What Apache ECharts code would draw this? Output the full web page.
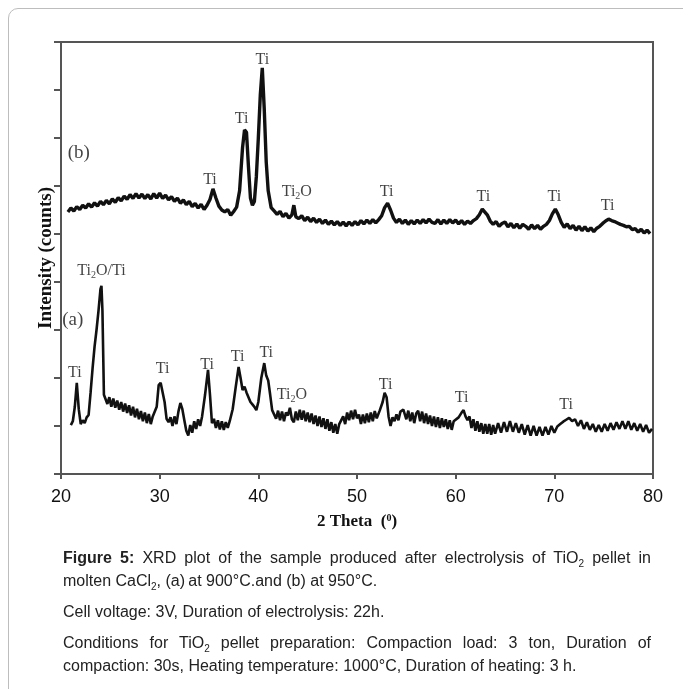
<!DOCTYPE html>
<html>
<head>
<meta charset="utf-8">
<script src="https://cdn.jsdelivr.net/npm/echarts@6/dist/echarts.min.js"></script>
<style>
html,body{margin:0;padding:0;background:#fff;width:683px;height:689px;overflow:hidden;}
#frame{position:absolute;left:8px;top:8px;width:700px;height:720px;border:1px solid #bdbdbd;border-radius:10px;box-sizing:border-box;}
#chart{position:absolute;left:0;top:0;width:683px;height:689px;}
#caption{position:absolute;left:63px;top:546px;width:588px;font-family:'Liberation Sans',Arial,sans-serif;font-size:16px;color:#222;}
#caption .l{height:23px;line-height:23px;white-space:nowrap;}
#caption .j{text-align:justify;text-align-last:justify;}
#caption .gap{height:8px;}
#caption sub{font-size:10px;vertical-align:-4px;line-height:0;}
</style>
</head>
<body>
<div id="frame"></div>
<div id="chart"></div>
<div id="caption">
<div class="l j"><b>Figure 5:</b> XRD plot of the sample produced after electrolysis of TiO<sub>2</sub> pellet in</div>
<div class="l">molten CaCl<sub>2</sub>, (a)&#8201;at 900°C.and (b) at 950°C.</div>
<div class="gap"></div>
<div class="l">Cell voltage: 3V, Duration of electrolysis: 22h.</div>
<div class="gap"></div>
<div class="l j">Conditions for TiO<sub>2</sub> pellet preparation: Compaction load: 3 ton, Duration of</div>
<div class="l">compaction: 30s, Heating temperature: 1000°C, Duration of heating: 3 h.</div>
</div>
<script>
// x axis tick values
var xTicks = [20, 30, 40, 50, 60, 70, 80];

// Pattern (b): 950 °C  [2θ, intensity]
var seriesB = [
[20.7,546],[21.0,554],[21.3,548],[21.6,557],[21.9,551],[22.2,560],[22.5,554],[22.8,563],[23.1,556],[23.4,565],
[23.7,558],[24.0,568],[24.3,561],[24.6,570],[24.9,563],[25.2,573],[25.5,566],[25.8,576],[26.1,569],[26.4,579],
[26.7,572],[27.0,582],[27.3,574],[27.6,584],[27.9,575],[28.2,583],[28.5,574],[28.8,582],[29.1,573],[29.4,584],
[29.7,575],[30.0,585],[30.3,574],[30.6,581],[30.9,571],[31.2,578],[31.5,568],[31.8,575],[32.1,564],[32.4,571],
[32.7,561],[33.0,568],[33.3,557],[33.6,564],[33.9,554],[34.2,562],[34.5,551],[34.8,560],[35.1,572],[35.4,594],
[35.7,575],[36.0,558],[36.3,550],[36.6,546],[36.9,551],[37.2,539],[37.5,547],[37.8,556],[38.1,590],[38.4,680],
[38.6,717],[38.8,712],[39.0,640],[39.2,575],[39.4,560],[39.6,568],[39.8,620],[40.0,700],[40.2,790],[40.4,846],
[40.6,760],[40.8,650],[41.0,590],[41.3,555],[41.6,548],[41.9,541],[42.2,547],[42.5,536],[42.8,543],[43.1,533],
[43.4,540],[43.6,560],[43.8,536],[44.1,532],[44.4,538],[44.7,528],[45.0,535],[45.3,526],[45.6,533],[45.9,524],
[46.2,531],[46.5,522],[46.8,529],[47.1,520],[47.4,527],[47.7,519],[48.0,526],[48.3,518],[48.6,525],[48.9,517],
[49.2,525],[49.5,518],[49.8,526],[50.1,519],[50.4,528],[50.7,521],[51.0,529],[51.3,522],[51.6,530],[51.9,523],
[52.2,530],[52.5,538],[52.8,555],[53.1,564],[53.4,550],[53.7,533],[54.0,524],[54.3,531],[54.6,522],[54.9,529],
[55.2,520],[55.5,528],[55.8,521],[56.1,529],[56.4,522],[56.7,530],[57.0,523],[57.3,531],[57.6,524],[57.9,522],
[58.2,530],[58.5,521],[58.8,529],[59.1,522],[59.4,530],[59.7,523],[60.0,529],[60.3,521],[60.6,528],[60.9,520],
[61.2,527],[61.5,522],[61.8,528],[62.1,532],[62.4,540],[62.7,552],[62.9,554],[63.2,540],[63.5,527],[63.8,520],
[64.1,526],[64.4,516],[64.7,522],[65.0,525],[65.3,515],[65.6,522],[65.9,513],[66.2,521],[66.5,512],[66.8,520],
[67.1,516],[67.4,510],[67.7,519],[68.0,511],[68.3,518],[68.6,510],[68.9,516],[69.2,520],[69.5,528],[69.8,542],
[70.1,552],[70.4,540],[70.7,524],[71.0,514],[71.3,521],[71.6,511],[71.9,518],[72.2,508],[72.5,516],[72.8,507],
[73.1,515],[73.4,506],[73.7,513],[74.0,505],[74.3,512],[74.6,516],[74.9,522],[75.2,527],[75.5,531],[75.8,528],
[76.1,526],[76.4,523],[76.7,520],[77.0,518],[77.3,515],[77.6,516],[77.9,509],[78.2,511],[78.5,504],[78.8,510],
[79.1,502],[79.4,508],[79.7,501]
];

// Pattern (a): 900 °C  [2θ, intensity]
var seriesA = [
[21.0,102],[21.2,110],[21.4,140],[21.6,190],[21.8,135],[22.0,104],[22.2,112],[22.4,106],[22.6,118],[22.8,123],
[23.0,170],[23.2,220],[23.4,265],[23.6,300],[23.8,340],[24.0,385],[24.1,392],[24.2,340],[24.35,165],[24.5,162],
[24.7,146],[24.9,160],[25.1,140],[25.3,157],[25.5,138],[25.7,153],[25.9,134],[26.1,150],[26.3,130],[26.5,147],
[26.7,127],[26.9,143],[27.1,122],[27.3,140],[27.5,118],[27.7,136],[27.9,114],[28.1,131],[28.3,110],[28.5,128],
[28.7,106],[28.9,125],[29.1,104],[29.3,120],[29.5,120],[29.7,140],[29.9,185],[30.1,190],[30.3,188],[30.5,150],
[30.7,115],[30.9,108],[31.1,118],[31.3,100],[31.5,120],[31.7,104],[31.9,130],[32.1,148],[32.3,135],[32.5,112],
[32.7,90],[32.9,80],[33.1,102],[33.3,86],[33.5,110],[33.7,94],[33.9,114],[34.1,100],[34.3,120],[34.6,165],
[34.9,217],[35.1,165],[35.3,106],[35.5,115],[35.7,96],[35.9,112],[36.1,93],[36.3,110],[36.5,92],[36.7,108],
[36.9,96],[37.1,110],[37.4,135],[37.7,180],[38.0,223],[38.2,200],[38.4,175],[38.6,182],[38.8,170],[39.0,160],
[39.2,150],[39.4,145],[39.6,140],[39.8,133],[40.0,150],[40.3,200],[40.6,231],[40.8,205],[41.0,195],[41.2,165],
[41.4,133],[41.6,135],[41.8,115],[42.0,132],[42.2,112],[42.4,130],[42.6,110],[42.8,128],[43.0,122],[43.2,138],
[43.4,114],[43.6,108],[43.8,130],[44.0,112],[44.2,134],[44.4,113],[44.6,132],[44.8,110],[45.0,128],[45.2,108],
[45.4,126],[45.6,104],[45.8,122],[46.0,100],[46.2,120],[46.4,98],[46.6,116],[46.8,94],[47.0,114],[47.2,90],
[47.4,108],[47.6,86],[47.8,104],[48.0,84],[48.2,104],[48.4,102],[48.6,120],[48.8,104],[49.0,128],[49.2,112],
[49.4,132],[49.6,114],[49.8,134],[50.0,116],[50.2,124],[50.4,104],[50.6,124],[50.8,106],[51.0,126],[51.2,108],
[51.4,128],[51.6,110],[51.8,131],[52.0,116],[52.3,132],[52.6,150],[52.8,169],[53.0,160],[53.2,120],[53.4,100],
[53.6,118],[53.8,110],[54.0,124],[54.2,112],[54.4,130],[54.7,134],[55.0,114],[55.2,132],[55.4,110],[55.6,128],
[55.8,106],[56.0,126],[56.2,132],[56.4,110],[56.6,130],[56.8,106],[57.0,126],[57.2,104],[57.4,122],[57.6,100],
[57.8,120],[58.0,98],[58.2,118],[58.4,96],[58.6,116],[58.8,98],[59.0,114],[59.2,94],[59.4,112],[59.6,92],
[59.8,110],[60.0,110],[60.3,118],[60.6,128],[60.8,133],[61.0,120],[61.2,112],[61.4,120],[61.6,96],[61.8,114],
[62.0,90],[62.2,110],[62.4,88],[62.6,106],[62.8,84],[63.0,104],[63.2,84],[63.4,104],[63.6,82],[63.8,102],
[64.0,84],[64.3,106],[64.6,86],[64.9,108],[65.2,88],[65.5,110],[65.8,88],[66.1,106],[66.4,86],[66.7,104],
[67.0,82],[67.3,102],[67.6,80],[67.9,100],[68.2,80],[68.5,98],[68.8,80],[69.1,98],[69.4,82],[69.7,100],
[70.0,86],[70.3,99],[70.6,104],[70.9,109],[71.2,113],[71.5,117],[71.8,110],[72.1,114],[72.4,100],[72.7,112],
[73.0,94],[73.3,108],[73.6,92],[73.9,104],[74.2,88],[74.5,102],[74.8,88],[75.1,104],[75.4,90],[75.7,106],
[76.0,92],[76.3,108],[76.6,94],[76.9,110],[77.2,94],[77.5,110],[77.8,92],[78.1,106],[78.4,90],[78.7,104],
[79.0,88],[79.3,102],[79.6,86],[79.9,94]
];

// Peak / curve labels [2θ, intensity, text]
var labelsB = [
[40.4,862,'Ti'],[38.3,740,'Ti'],[35.1,612,'Ti'],[43.9,588,'Ti2O'],[53.0,587,'Ti'],
[62.8,577,'Ti'],[70.0,577,'Ti'],[75.4,558,'Ti'],[21.8,669,'(b)']
];
var labelsA = [
[24.1,423,'Ti2O/Ti'],[21.2,321,'(a)'],[21.4,210,'Ti'],[30.3,219,'Ti'],[34.8,227,'Ti'],
[37.9,244,'Ti'],[40.8,252,'Ti'],[43.4,165,'Ti2O'],[52.9,185,'Ti'],[60.6,158,'Ti'],[71.2,144,'Ti']
];

var serif = "'Liberation Serif','Times New Roman',serif";
var sans = "'Liberation Sans',Arial,sans-serif";

function fmtLabel(p){
  var t = p.data[2];
  if (t.charAt(0) === '(') return '{big|' + t + '}';
  return '{n|' + t.replace(/Ti2O/g, 'Ti}{s|2}{n|O') + '}';
}
var labelRich = {
  n: {fontFamily: serif, fontSize: 16, color: '#111', lineHeight: 18},
  s: {fontFamily: serif, fontSize: 10, color: '#111', lineHeight: 18, padding: [9, 0, 0, 0]},
  big: {fontFamily: serif, fontSize: 19, color: '#111', lineHeight: 20}
};

var chart = echarts.init(document.getElementById('chart'), null, {renderer: 'canvas'});
chart.setOption({
  animation: false,
  backgroundColor: 'transparent',
  grid: {left: 61, right: 30, top: 42, bottom: 215, show: true, borderColor: '#555', borderWidth: 2, backgroundColor: 'transparent'},
  xAxis: {
    type: 'value', min: xTicks[0], max: xTicks[xTicks.length - 1], interval: 10,
    axisLine: {show: true, onZero: false, lineStyle: {color: '#555', width: 2}},
    axisTick: {show: true, inside: false, length: 5, lineStyle: {color: '#555', width: 2}},
    axisLabel: {show: true, margin: 14, fontFamily: sans, fontSize: 18, color: '#111'},
    splitLine: {show: false},
    name: '{b|2 Theta  (}{sup|0}{b|)}',
    nameLocation: 'middle', nameGap: 38,
    nameTextStyle: {rich: {
      b: {fontFamily: serif, fontSize: 17, fontWeight: 'bold', color: '#111', lineHeight: 20},
      sup: {fontFamily: serif, fontSize: 10, fontWeight: 'bold', color: '#111', lineHeight: 20, padding: [0, 0, 8, 0]}
    }}
  },
  yAxis: {
    type: 'value', min: 0, max: 900, interval: 100,
    axisLine: {show: true, onZero: false, lineStyle: {color: '#555', width: 2}},
    axisTick: {show: true, inside: false, length: 7, lineStyle: {color: '#555', width: 2}},
    axisLabel: {show: false},
    splitLine: {show: false},
    name: 'Intensity (counts)',
    nameLocation: 'middle', nameGap: 5,
    nameTextStyle: {fontFamily: serif, fontSize: 19, fontWeight: 'bold', color: '#111'}
  },
  series: [
    {type: 'line', name: '(b)', data: seriesB, showSymbol: false, symbol: 'none',
     lineStyle: {color: '#111', width: 3.4}, z: 3},
    {type: 'line', name: '(a)', data: seriesA, showSymbol: false, symbol: 'none',
     lineStyle: {color: '#111', width: 2.6}, z: 3},
    {type: 'scatter', data: labelsB.concat(labelsA), symbolSize: 0, silent: true, z: 5,
     label: {show: true, position: 'inside', formatter: fmtLabel, rich: labelRich}}
  ]
});
</script>
</body>
</html>
